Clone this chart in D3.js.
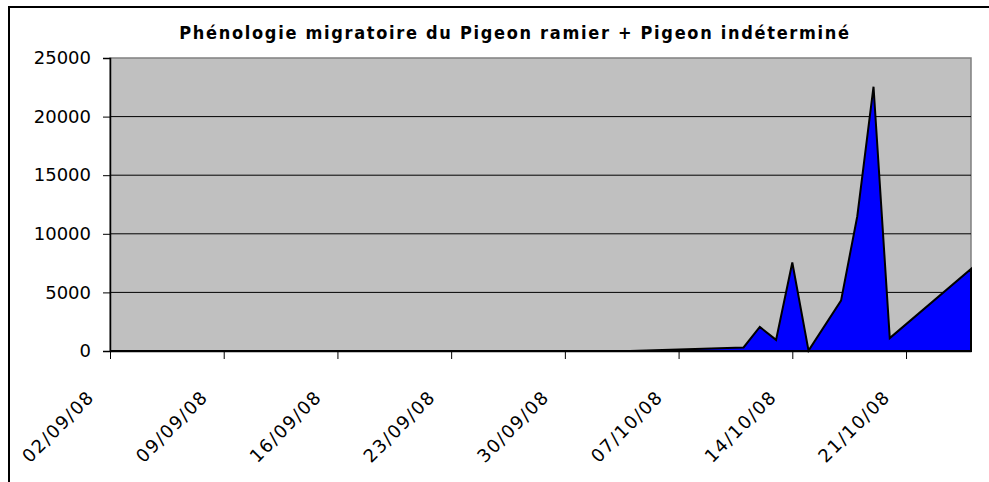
<!DOCTYPE html>
<html>
<head>
<meta charset="utf-8">
<script src="https://cdn.jsdelivr.net/npm/d3@7"></script>
<style>
  body { margin: 0; background: #fff; }
  svg { display: block; }
  .tick text { font-family: "DejaVu Sans", sans-serif; font-size: 18px; fill: #000; }
</style>
</head>
<body>
<div class="chart"></div>
<script>
// Chart data
var dates = [
  "02/09/08", "03/09/08", "04/09/08", "05/09/08", "06/09/08", "07/09/08", "08/09/08",
  "09/09/08", "10/09/08", "11/09/08", "12/09/08", "13/09/08", "14/09/08", "15/09/08",
  "16/09/08", "17/09/08", "18/09/08", "19/09/08", "20/09/08", "21/09/08", "22/09/08",
  "23/09/08", "24/09/08", "25/09/08", "26/09/08", "27/09/08", "28/09/08", "29/09/08",
  "30/09/08", "01/10/08", "02/10/08", "03/10/08", "04/10/08", "05/10/08", "06/10/08",
  "07/10/08", "08/10/08", "09/10/08", "10/10/08", "11/10/08", "12/10/08", "13/10/08",
  "14/10/08", "15/10/08", "17/10/08", "18/10/08", "19/10/08", "20/10/08", "25/10/08"
];
var counts = [
  0, 0, 0, 0, 0, 0, 0,
  0, 0, 0, 0, 0, 0, 0,
  0, 0, 0, 0, 0, 0, 0,
  0, 0, 0, 0, 0, 0, 0,
  0, 0, 0, 0, 0, 40, 90,
  130, 170, 210, 250, 300, 2050, 950,
  7550, 30, 4300, 11500, 22550, 1100, 7000
];
var xTickLabels = ["02/09/08", "09/09/08", "16/09/08", "23/09/08", "30/09/08", "07/10/08", "14/10/08", "21/10/08"];
var yTicks = [0, 5000, 10000, 15000, 20000, 25000];
var title = "Phénologie migratoire du Pigeon ramier + Pigeon indéterminé";

var svgWidth = 989;
var svgHeight = 482;

// plot area
var margin = { top: 58, right: 18, bottom: 131, left: 110 };
var width = svgWidth - margin.left - margin.right;
var height = svgHeight - margin.top - margin.bottom;

var parseDate = d3.utcParse("%d/%m/%y");
var data = dates.map(function(d, i) {
  return { date: parseDate(d), value: counts[i] };
});

var svg = d3.select(".chart")
  .append("svg")
  .attr("width", svgWidth)
  .attr("height", svgHeight);

// outer chart frame (only left and top edges visible)
svg.append("rect")
  .attr("x", 9)
  .attr("y", 7)
  .attr("width", 1100)
  .attr("height", 600)
  .attr("fill", "#fff")
  .attr("stroke", "#000")
  .attr("stroke-width", 2);

// title
svg.append("text")
  .attr("x", 515)
  .attr("y", 39)
  .attr("text-anchor", "middle")
  .attr("font-family", "'DejaVu Sans Condensed', 'DejaVu Sans', sans-serif")
  .attr("font-weight", "bold")
  .attr("font-size", "18px")
  .attr("letter-spacing", "1.7px")
  .text(title);

var chartGroup = svg.append("g")
  .attr("transform", `translate(${margin.left}, ${margin.top})`);

var xScale = d3.scaleUtc()
  .domain([data[0].date, data[data.length - 1].date])
  .range([0, width]);

var yScale = d3.scaleLinear()
  .domain([0, 25000])
  .range([height, 0]);

// plot background
chartGroup.append("rect")
  .attr("width", width)
  .attr("height", height)
  .attr("fill", "#c0c0c0")
  .attr("stroke", "#808080")
  .attr("stroke-width", 1.5);

// gridlines
chartGroup.selectAll(".grid")
  .data(yTicks.filter(d => d > 0 && d < 25000))
  .enter()
  .append("line")
  .attr("class", "grid")
  .attr("x1", 0)
  .attr("x2", width)
  .attr("y1", d => yScale(d))
  .attr("y2", d => yScale(d))
  .attr("stroke", "#000")
  .attr("stroke-width", 1);

// area
var area = d3.area()
  .x(d => xScale(d.date))
  .y0(yScale(0))
  .y1(d => yScale(d.value));

chartGroup.append("path")
  .datum(data)
  .attr("d", area)
  .attr("fill", "#0000ff")
  .attr("stroke", "#000")
  .attr("stroke-width", 2)
  .attr("stroke-linejoin", "miter");

// y axis
var leftAxis = d3.axisLeft(yScale)
  .tickValues(yTicks)
  .tickSize(7)
  .tickPadding(12)
  .tickFormat(d3.format("d"));

var yAxis = chartGroup.append("g").call(leftAxis);
yAxis.select(".domain").attr("stroke", "#000").attr("stroke-width", 1.5);
yAxis.selectAll(".tick line").attr("stroke", "#000");

// x axis
var bottomAxis = d3.axisBottom(xScale)
  .tickValues(xTickLabels.map(parseDate))
  .tickSize(8)
  .tickSizeOuter(0)
  .tickFormat(d3.utcFormat("%d/%m/%y"));

var xAxis = chartGroup.append("g")
  .attr("transform", `translate(0, ${height})`)
  .call(bottomAxis);
xAxis.select(".domain").attr("stroke", "#000").attr("stroke-width", 1.5);
xAxis.selectAll(".tick line").attr("stroke", "#000");
xAxis.selectAll(".tick text")
  .attr("text-anchor", "end")
  .attr("dy", null)
  .attr("y", null)
  .attr("letter-spacing", "1.5px")
  .attr("transform", "translate(-15, 47) rotate(-45)");
</script>
</body>
</html>
